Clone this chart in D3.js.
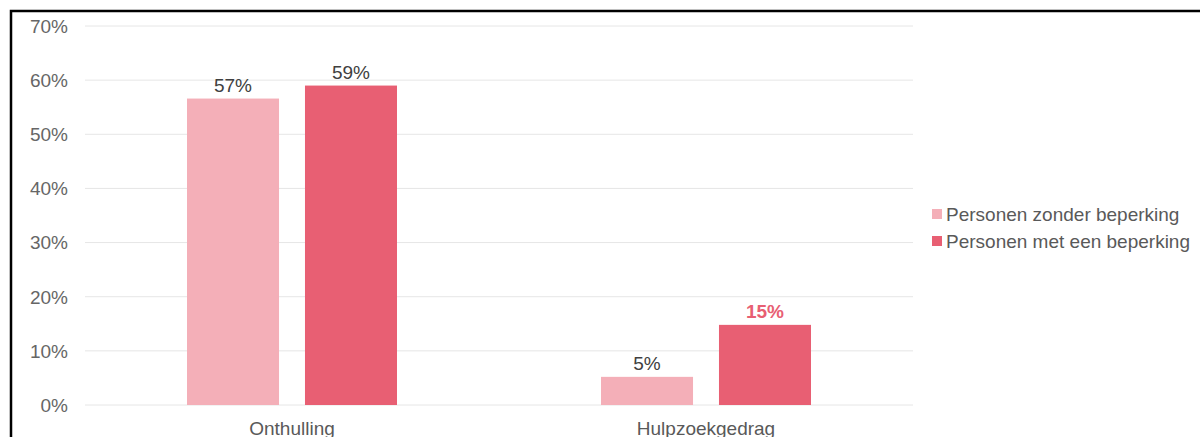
<!DOCTYPE html>
<html>
<head>
<meta charset="utf-8">
<script src="https://cdn.jsdelivr.net/npm/d3@7"></script>
<style>
  body { margin: 0; background: #fff; }
  text { font-family: "Liberation Sans", Arial, sans-serif; }
</style>
</head>
<body>
<div id="chart"></div>
<script>
// data
var categories = ["Onthulling", "Hulpzoekgedrag"];
var seriesNames = ["Personen zonder beperking", "Personen met een beperking"];
var zonder = [56.6, 5.2];
var met = [59, 14.8];
var yTicks = [0, 10, 20, 30, 40, 50, 60, 70];

var colors = ["#f4afb8", "#e85f73"];
var width = 1200, height = 437;
var fontSize = 19;

var svg = d3.select("#chart")
    .append("svg")
    .attr("width", width)
    .attr("height", height);

// frame
svg.append("path")
    .attr("d", "M11," + height + "V11H" + width)
    .attr("fill", "none")
    .attr("stroke", "#000")
    .attr("stroke-width", 2.5);

var x = d3.scaleBand().domain(categories).range([85, 913]);
var xInner = d3.scaleBand().domain([0, 1]).range([0, 210]).paddingInner(0.22);
var y = d3.scaleLinear().domain([0, 70]).range([405, 26]);

// gridlines
svg.append("g")
    .selectAll("line")
    .data(yTicks)
    .enter()
    .append("line")
    .attr("x1", 85)
    .attr("x2", 913)
    .attr("y1", function(d) { return y(d); })
    .attr("y2", function(d) { return y(d); })
    .attr("stroke", "#e6e6e6")
    .attr("stroke-width", 1);

// y tick labels
svg.append("g")
    .selectAll("text")
    .data(yTicks)
    .enter()
    .append("text")
    .attr("x", 68)
    .attr("y", function(d) { return y(d); })
    .attr("dy", "0.36em")
    .attr("text-anchor", "end")
    .attr("font-size", fontSize)
    .attr("fill", "#666")
    .text(function(d) { return d + "%"; });

// bars
var rows = [];
categories.forEach(function(c, i) {
    rows.push({ cat: c, s: 0, v: zonder[i] });
    rows.push({ cat: c, s: 1, v: met[i] });
});

function barX(d) {
    return x(d.cat) + x.bandwidth() / 2 - 105 + xInner(d.s);
}

svg.append("g")
    .selectAll("rect")
    .data(rows)
    .enter()
    .append("rect")
    .attr("x", barX)
    .attr("y", function(d) { return y(d.v); })
    .attr("width", xInner.bandwidth())
    .attr("height", function(d) { return y(0) - y(d.v); })
    .attr("fill", function(d) { return colors[d.s]; });

// value labels
svg.append("g")
    .selectAll("text")
    .data(rows)
    .enter()
    .append("text")
    .attr("x", function(d) { return barX(d) + xInner.bandwidth() / 2; })
    .attr("y", function(d) { return y(d.v) - 7; })
    .attr("text-anchor", "middle")
    .attr("font-size", fontSize)
    .attr("font-weight", function(d) { return d.cat === "Hulpzoekgedrag" && d.s === 1 ? "bold" : "normal"; })
    .attr("fill", function(d) { return d.cat === "Hulpzoekgedrag" && d.s === 1 ? colors[1] : "#404040"; })
    .text(function(d) { return Math.round(d.v) + "%"; });

// category labels (cut off at the bottom edge, as in the source image)
svg.append("g")
    .selectAll("text")
    .data(categories)
    .enter()
    .append("text")
    .attr("x", function(d) { return x(d) + x.bandwidth() / 2; })
    .attr("y", 435)
    .attr("text-anchor", "middle")
    .attr("font-size", fontSize)
    .attr("fill", "#595959")
    .text(function(d) { return d; });

// legend
var legend = svg.append("g")
    .selectAll("g")
    .data(seriesNames)
    .enter()
    .append("g")
    .attr("transform", function(d, i) { return "translate(932," + (214 + i * 27) + ")"; });

legend.append("rect")
    .attr("x", 0)
    .attr("y", -5)
    .attr("width", 10)
    .attr("height", 10)
    .attr("fill", function(d, i) { return colors[i]; });

legend.append("text")
    .attr("x", 14)
    .attr("y", 0)
    .attr("dy", "0.36em")
    .attr("font-size", fontSize)
    .attr("fill", "#595959")
    .text(function(d) { return d; });
</script>
</body>
</html>
